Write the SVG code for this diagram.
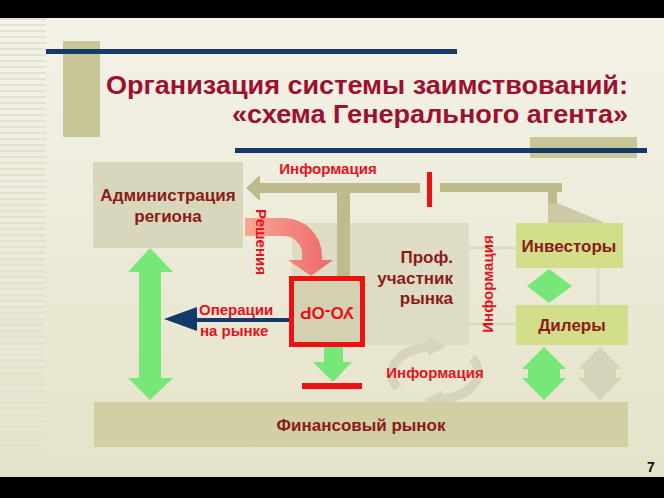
<svg xmlns="http://www.w3.org/2000/svg" width="664" height="498" viewBox="0 0 664 498">
  <defs>
    <linearGradient id="bg" x1="0" y1="0" x2="0" y2="1">
      <stop offset="0" stop-color="#f5f3ea"/>
      <stop offset="1" stop-color="#e4e2c6"/>
    </linearGradient>
    <linearGradient id="redgrad" x1="0" y1="0" x2="1" y2="0">
      <stop offset="0" stop-color="#f7a795"/>
      <stop offset="1" stop-color="#ee6868"/>
    </linearGradient>
    <pattern id="stripes" x="0" y="0" width="46" height="6" patternUnits="userSpaceOnUse">
      <rect x="0" y="0" width="46" height="2" fill="#e3e1cf"/>
    </pattern>
    <style>
      .box { fill: #d9d7bb; }
      .boxt { font-family: "Liberation Sans", Arial, sans-serif; font-weight: bold; font-size: 17px; fill: #8b1a1a; }
      .redt { font-family: "Liberation Sans", Arial, sans-serif; font-weight: bold; font-size: 15px; fill: #e5121e; }
      .title { font-family: "Liberation Sans", Arial, sans-serif; font-weight: bold; font-size: 26px; fill: #9c1030; }
      .olive { fill: #bfbc8c; }
      .green { fill: #77e877; }
      .yg { fill: #d2de8a; }
      .faint { stroke: #dcdac6; stroke-width: 3; fill: none; }
    </style>
  </defs>

  <!-- background -->
  <rect x="0" y="0" width="664" height="498" fill="url(#bg)"/>
  <rect x="0" y="18" width="46" height="460" fill="url(#stripes)"/>
  <rect x="0" y="0" width="664" height="18" fill="#000"/>
  <rect x="0" y="477" width="664" height="21" fill="#000"/>

  <!-- title decoration -->
  <g id="title">
    <rect x="63" y="41" width="37" height="96" fill="#c8c596"/>
    <rect x="530" y="137" width="107" height="21" fill="#c8c596"/>
    <rect x="46" y="49" width="411" height="5" fill="#16396b"/>
    <rect x="235" y="148" width="412" height="5" fill="#16396b"/>
    <text class="title" x="106" y="94" textLength="522" lengthAdjust="spacingAndGlyphs">Организация системы заимствований:</text>
    <text class="title" x="232" y="123" textLength="396" lengthAdjust="spacingAndGlyphs">«схема Генерального агента»</text>
  </g>

  <!-- Prof participant box (background layer) -->
  <g id="prof">
    <rect x="292" y="223" width="177" height="122" fill="#dedcc4"/>
    <text class="boxt" x="453" y="263" text-anchor="end">Проф.</text>
    <text class="boxt" x="453" y="284" text-anchor="end">участник</text>
    <text class="boxt" x="453" y="304" text-anchor="end">рынка</text>
  </g>

  <g id="connectors">
    <!-- faint links -->
    <line class="faint" x1="469" y1="248" x2="516" y2="248"/>
    <line class="faint" x1="469" y1="324" x2="516" y2="324"/>
    <line class="faint" x1="598" y1="268" x2="598" y2="305"/>
    <!-- information bus -->
    <rect class="olive" x="258" y="183" width="162" height="10"/>
    <polygon class="olive" points="246,188 260,175 260,201"/>
    <rect class="olive" x="337" y="188" width="13" height="88"/>
    <rect class="olive" x="440" y="183" width="122" height="9"/>
    <rect class="olive" x="548" y="183" width="9" height="22"/>
    <polygon points="548,203 557,203 603,222 603,240 548,240" fill="#c5c39a" opacity="0.85"/>
    <rect x="427" y="172" width="5" height="35" fill="#ee1111"/>
    <!-- decisions curved arrow -->
    <path d="M245,218 L284,218 A38,38 0 0 1 322,256 L322,260 L333,260 L311,276 L288,260 L302,260 L302,256 A18,18 0 0 0 284,236 L245,236 Z" fill="url(#redgrad)"/>
    <!-- operations arrow -->
    <line x1="195" y1="320" x2="290" y2="320" stroke="#14396b" stroke-width="4"/>
    <polygon points="164,319 197,307 197,331" fill="#14396b"/>
    <!-- admin <-> market -->
    <polygon class="green" points="150,248 173,272 161,272 161,378 173,378 150,400 128,378 139,378 139,272 128,272"/>
    <!-- УО-ОР down arrow -->
    <polygon class="green" points="324,346 343,346 343,362 352,362 333,382 313,362 324,362"/>
    <rect x="302" y="383" width="60" height="6" fill="#ee1111"/>
    <!-- investors <-> dealers -->
    <polygon class="green" points="549,269 572,286 549,303 527,286"/>
    <!-- dealers <-> market -->
    <polygon class="green" points="544,347 566,369 560,369 560,378 566,378 544,400 522,378 528,378 528,369 522,369"/>
    <polygon points="600,347 622,369 616,369 616,378 622,378 600,400 578,378 584,378 584,369 578,369" fill="#d6d4b8"/>
    <!-- circular information arrows -->
    <path d="M398,388 A42,27 0 0 1 428,347" fill="none" stroke="#d6d4bc" stroke-width="9"/>
    <polygon points="446,346 428,337 428,356" fill="#d6d4bc"/>
    <path d="M472,358 A42,27 0 0 1 442,399" fill="none" stroke="#d6d4bc" stroke-width="9"/>
    <polygon points="424,400 442,391 442,409" fill="#d6d4bc"/>
    <!-- labels -->
    <text class="redt" x="328" y="174" text-anchor="middle">Информация</text>
    <text class="redt" x="199" y="315">Операции</text>
    <text class="redt" x="200" y="336">на рынке</text>
    <text class="redt" transform="translate(261,242) rotate(90)" x="0" y="5" text-anchor="middle" font-size="14">Решения</text>
    <text class="redt" transform="translate(488,284) rotate(-90)" x="0" y="5" text-anchor="middle">Информация</text>
    <text class="redt" x="435" y="378" text-anchor="middle">Информация</text>
  </g>

  <g id="admin">
    <rect class="box" x="93" y="162" width="150" height="86"/>
    <text class="boxt" x="168" y="201" text-anchor="middle">Администрация</text>
    <text class="boxt" x="168" y="222" text-anchor="middle">региона</text>
  </g>

  <g id="uoor">
    <rect x="291.5" y="278.5" width="71" height="66" fill="#d4d1b2" stroke="#ee1111" stroke-width="5"/>
    <text class="boxt" transform="rotate(180,327,313)" x="327" y="319" text-anchor="middle" font-size="16" style="fill:#e5121e">УО-ОР</text>
  </g>

  <g id="investors">
    <rect class="yg" x="516" y="223" width="107" height="45"/>
    <text class="boxt" x="569" y="252" text-anchor="middle">Инвесторы</text>
  </g>

  <g id="dealers">
    <rect class="yg" x="516" y="305" width="112" height="40"/>
    <text class="boxt" x="572" y="331" text-anchor="middle">Дилеры</text>
  </g>

  <g id="finmarket">
    <rect x="94" y="402" width="534" height="45" fill="#d2cfa3"/>
    <text class="boxt" x="361" y="431" text-anchor="middle">Финансовый рынок</text>
  </g>

  <text x="651" y="472" text-anchor="middle" font-family="Liberation Sans, Arial, sans-serif" font-weight="bold" font-size="14" fill="#111">7</text>
</svg>
